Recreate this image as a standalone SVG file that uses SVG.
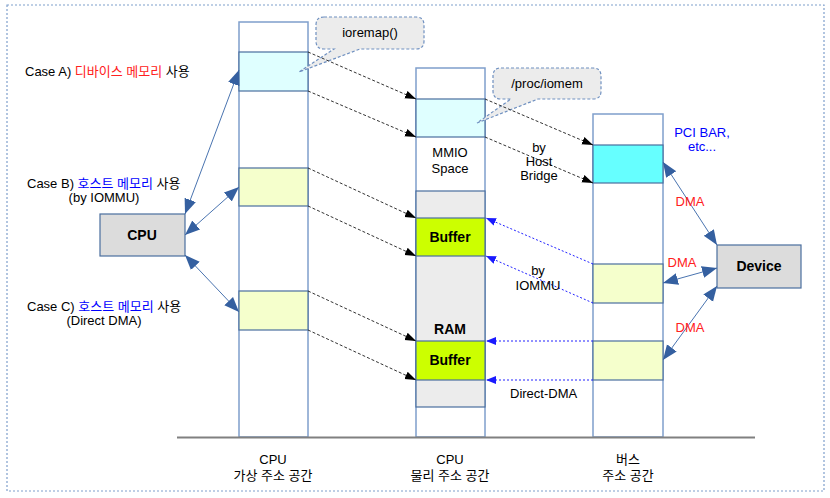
<svg xmlns="http://www.w3.org/2000/svg" width="830" height="498" viewBox="0 0 830 498">
<defs>
<style>
text{font-family:"Liberation Sans","Noto Sans CJK KR",sans-serif;font-size:13px;fill:#000}
.c{text-anchor:middle}
.b{font-weight:bold;font-size:14px}
.red{fill:#ff2020}
.blu{fill:#0000ff}
.col{fill:#fff;stroke:#7f9fcc;stroke-width:1.5}
.row{stroke:#4a6e9e;stroke-width:1.2}
.dk{fill:none;stroke:#333;stroke-width:1;stroke-dasharray:3,2}
.bd{fill:none;stroke:#2222ff;stroke-width:1;stroke-dasharray:2,2}
.bs{fill:none;stroke:#4a74b0;stroke-width:1}
.call{fill:#ececec;stroke:#6f90c0;stroke-width:1.2;stroke-dasharray:3,2}
.box{fill:#dcdcdc;stroke:#4a6e9e;stroke-width:1.2}
</style>
<marker id="ak" markerUnits="userSpaceOnUse" markerWidth="12" markerHeight="10" refX="11" refY="4" orient="auto"><path d="M0,0 L11,4 L0,8 Z" fill="#000"/></marker>
<marker id="ab" markerUnits="userSpaceOnUse" markerWidth="12" markerHeight="10" refX="10" refY="4" orient="auto"><path d="M0,0 L10,4 L0,8 Z" fill="#1a1aff"/></marker>
<marker id="as" markerUnits="userSpaceOnUse" markerWidth="16" markerHeight="14" refX="15" refY="6" orient="auto-start-reverse"><path d="M0,0 L15,6 L0,12 Z" fill="#3560a0"/></marker>
</defs>
<rect x="7" y="5" width="817" height="486" fill="#fff" stroke="#7f9fcc" stroke-width="1.2" stroke-dasharray="2,2"/>

<g id="col-virt">
<rect class="col" x="239" y="22" width="69" height="415"/>
<rect class="row" x="239" y="52" width="69" height="39" fill="#dfffff"/>
<rect class="row" x="239" y="168" width="69" height="38" fill="#f5ffcc"/>
<rect class="row" x="239" y="291" width="69" height="39" fill="#f5ffcc"/>
</g>
<g id="col-phys">
<rect class="col" x="416" y="68" width="69" height="369"/>
<rect class="row" x="416" y="99" width="69" height="38" fill="#dfffff"/>
<rect class="row" x="416" y="191" width="69" height="216" fill="#ececec"/>
<rect class="row" x="416" y="218" width="69" height="38" fill="#ccff00"/>
<rect class="row" x="416" y="341" width="69" height="39" fill="#ccff00"/>
<text class="c" x="450" y="157">MMIO</text>
<text class="c" x="450" y="173">Space</text>
<text class="c b" x="450" y="334">RAM</text>
<text class="c b" x="450" y="242">Buffer</text>
<text class="c b" x="450" y="365">Buffer</text>
</g>
<g id="col-bus">
<rect class="col" x="593" y="114" width="70" height="323"/>
<rect class="row" x="593" y="145" width="70" height="38" fill="#66ffff"/>
<rect class="row" x="593" y="264" width="70" height="39" fill="#f5ffcc"/>
<rect class="row" x="593" y="341" width="70" height="39" fill="#f5ffcc"/>
</g>
<line x1="177" y1="437.5" x2="755" y2="437.5" stroke="#808080" stroke-width="2"/>

<g id="cpu"><rect class="box" x="100" y="214" width="85" height="42"/><text class="c b" x="142" y="240">CPU</text></g>
<g id="device"><rect class="box" x="717" y="245" width="84" height="43"/><text class="c b" x="759" y="271">Device</text></g>

<g id="callout-ioremap"><path class="call" d="M324,17 H416 Q424,17 424,25 V41 Q424,49 416,49 H360 L299,72 L334,49 H324 Q316,49 316,41 V25 Q316,17 324,17 Z"/><text class="c" x="370" y="37">ioremap()</text></g>
<g id="callout-iomem"><path class="call" d="M501,68 H593 Q601,68 601,76 V91 Q601,99 593,99 H538 L477,123 L511,99 H501 Q493,99 493,91 V76 Q493,68 501,68 Z"/><text class="c" x="547" y="88">/proc/iomem</text></g>

<g id="connectors">
<line class="dk" x1="308" y1="52" x2="416" y2="99" marker-end="url(#ak)"/>
<line class="dk" x1="308" y1="91" x2="416" y2="137" marker-end="url(#ak)"/>
<line class="dk" x1="308" y1="168" x2="416" y2="218" marker-end="url(#ak)"/>
<line class="dk" x1="308" y1="206" x2="416" y2="256" marker-end="url(#ak)"/>
<line class="dk" x1="308" y1="291" x2="416" y2="341" marker-end="url(#ak)"/>
<line class="dk" x1="308" y1="330" x2="416" y2="380" marker-end="url(#ak)"/>
<line class="dk" x1="485" y1="99" x2="593" y2="145" marker-end="url(#ak)"/>
<line class="dk" x1="485" y1="137" x2="593" y2="183" marker-end="url(#ak)"/>
<line class="bd" x1="593" y1="264" x2="486" y2="218" marker-end="url(#ab)"/>
<line class="bd" x1="593" y1="303" x2="486" y2="256" marker-end="url(#ab)"/>
<line class="bd" x1="593" y1="341" x2="486" y2="341" marker-end="url(#ab)"/>
<line class="bd" x1="593" y1="380" x2="486" y2="380" marker-end="url(#ab)"/>
<line class="bs" x1="185" y1="214" x2="239" y2="70" marker-start="url(#as)" marker-end="url(#as)"/>
<line class="bs" x1="185" y1="235" x2="239" y2="187" marker-start="url(#as)" marker-end="url(#as)"/>
<line class="bs" x1="185" y1="255" x2="239" y2="312" marker-start="url(#as)" marker-end="url(#as)"/>
<line class="bs" x1="663" y1="162" x2="717" y2="245" marker-start="url(#as)" marker-end="url(#as)"/>
<line class="bs" x1="663" y1="283" x2="717" y2="268" marker-start="url(#as)" marker-end="url(#as)"/>
<line class="bs" x1="663" y1="360" x2="717" y2="286" marker-start="url(#as)" marker-end="url(#as)"/>
</g>

<g id="labels">
<text x="25" y="76">Case A) <tspan class="red">디바이스 메모리</tspan> 사용</text>
<text x="27" y="188">Case B) <tspan class="blu">호스트 메모리</tspan> 사용</text>
<text class="c" x="104" y="202">(by IOMMU)</text>
<text x="27" y="311">Case C) <tspan class="blu">호스트 메모리</tspan> 사용</text>
<text class="c" x="104" y="325">(Direct DMA)</text>
<text class="c" x="539" y="152">by</text>
<text class="c" x="539" y="166">Host</text>
<text class="c" x="539" y="180">Bridge</text>
<text class="c" x="538" y="275">by</text>
<text class="c" x="538" y="290">IOMMU</text>
<text x="510" y="398">Direct-DMA</text>
<text class="c blu" x="702" y="137">PCI BAR,</text>
<text class="c blu" x="702" y="151">etc...</text>
<text class="c red" x="690" y="206">DMA</text>
<text class="c red" x="682" y="267">DMA</text>
<text class="c red" x="690" y="332">DMA</text>
<text class="c" x="273" y="464">CPU</text>
<text class="c" x="273" y="480">가상 주소 공간</text>
<text class="c" x="450" y="464">CPU</text>
<text class="c" x="450" y="480">물리 주소 공간</text>
<text class="c" x="628" y="464">버스</text>
<text class="c" x="628" y="480">주소 공간</text>
</g>
</svg>
